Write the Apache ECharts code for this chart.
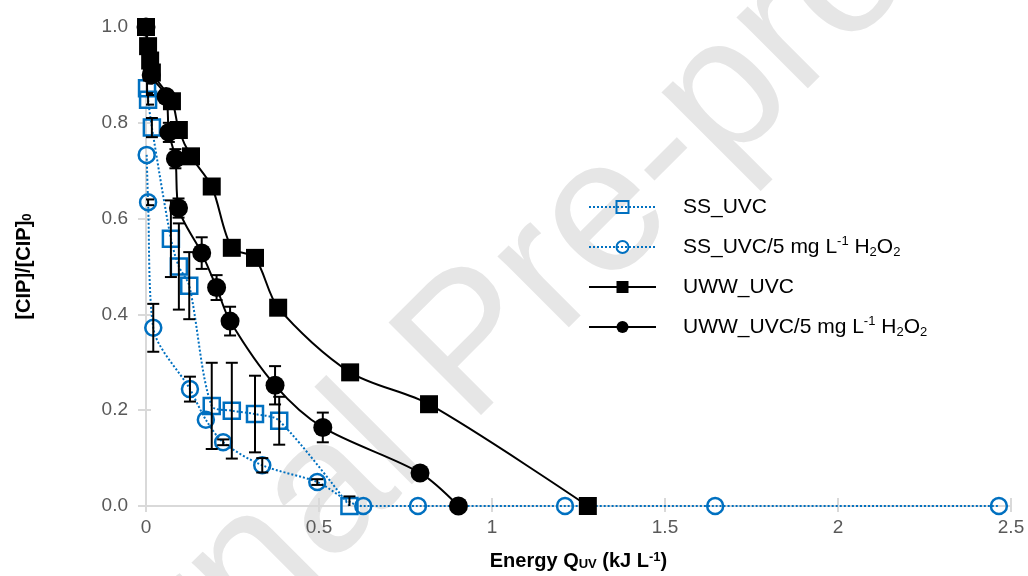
<!DOCTYPE html>
<html>
<head>
<meta charset="utf-8">
<script src="https://cdn.jsdelivr.net/npm/echarts@6/dist/echarts.min.js"></script>
<style>html,body{margin:0;padding:0;background:#fff;}#c{width:1028px;height:576px;}</style>
</head>
<body>
<div id="c"></div>
<script>
// ---- data ----
const ssUvcX   = [0.003, 0.006, 0.017, 0.072, 0.095, 0.125, 0.19, 0.248, 0.315, 0.385, 0.588];
const ssUvcY   = [0.872, 0.848, 0.79, 0.558, 0.50, 0.46, 0.209, 0.199, 0.192, 0.178, 0.0];
const ssUvcErr = [0.01, 0.01, 0.02, 0.08, 0.09, 0.07, 0.09, 0.10, 0.08, 0.05, 0.02];

const ssH2o2X   = [0.002, 0.006, 0.021, 0.127, 0.173, 0.223, 0.336, 0.495, 0.628, 0.786, 1.211, 1.645, 2.465];
const ssH2o2Y   = [0.733, 0.634, 0.372, 0.244, 0.18, 0.133, 0.085, 0.05, 0, 0, 0, 0, 0];
const ssH2o2Err = [0.0, 0.006, 0.05, 0.026, 0.0, 0.006, 0.015, 0.006, 0, 0, 0, 0, 0];

const uwwUvcX = [0.0, 0.006, 0.012, 0.017, 0.075, 0.095, 0.13, 0.19, 0.248, 0.315, 0.382, 0.59, 0.818, 1.277];
const uwwUvcY = [1.0, 0.96, 0.93, 0.905, 0.845, 0.785, 0.73, 0.667, 0.539, 0.518, 0.414, 0.279, 0.2125, 0.0];

const uwwH2o2X   = [0.0, 0.015, 0.058, 0.066, 0.085, 0.094, 0.161, 0.204, 0.243, 0.373, 0.511, 0.792, 0.903];
const uwwH2o2Y   = [1.0, 0.9, 0.855, 0.78, 0.725, 0.622, 0.528, 0.456, 0.386, 0.252, 0.164, 0.069, 0.0];
const uwwH2o2Err = [0, 0.01, 0.01, 0.02, 0.02, 0.02, 0.033, 0.026, 0.03, 0.04, 0.031, 0, 0];

const seriesNames = ['SS_UVC', 'SS_UVC/5 mg L-1 H2O2', 'UWW_UVC', 'UWW_UVC/5 mg L-1 H2O2'];
const legendLabels = {
  'SS_UVC': 'SS_UVC',
  'SS_UVC/5 mg L-1 H2O2': 'SS_UVC/5 mg L{sup|-1} H{sub|2}O{sub|2}',
  'UWW_UVC': 'UWW_UVC',
  'UWW_UVC/5 mg L-1 H2O2': 'UWW_UVC/5 mg L{sup|-1} H{sub|2}O{sub|2}'
};
const xTitle = 'Energy Q{sub|UV} (kJ L{sup|-1})';
const yTitle = '[CIP]/[CIP]{sub|0}';
const watermark = 'Journal Pre-proof';

// ---- helpers ----
const zip = (xs, ys) => xs.map((x, i) => [x, ys[i]]);
const zip3 = (xs, ys, es) => xs.map((x, i) => [x, ys[i], es[i]]);
const BLUE = '#0070C0';
const FONT = 'Liberation Sans, Arial, sans-serif';

function errRender(params, api) {
  const x = api.value(0), y = api.value(1), e = api.value(2);
  if (!e) return null;
  const t = api.coord([x, y + e]);
  const b = api.coord([x, y - e]);
  const hw = 6;
  const st = { stroke: '#000', lineWidth: 2 };
  return {
    type: 'group',
    children: [
      { type: 'line', shape: { x1: t[0], y1: t[1], x2: b[0], y2: b[1] }, style: st },
      { type: 'line', shape: { x1: t[0] - hw, y1: t[1], x2: t[0] + hw, y2: t[1] }, style: st },
      { type: 'line', shape: { x1: b[0] - hw, y1: b[1], x2: b[0] + hw, y2: b[1] }, style: st }
    ]
  };
}
function errSeries(xs, ys, es, z) {
  return { type: 'custom', renderItem: errRender, data: zip3(xs, ys, es), clip: true, z: z,
           encode: { x: 0, y: 1 }, silent: true };
}

const subSup = {
  sub: { fontSize: 13, verticalAlign: 'bottom', lineHeight: 19, fontWeight: 'bold', fontFamily: FONT, color: '#000' },
  sup: { fontSize: 13, verticalAlign: 'top', lineHeight: 19, fontWeight: 'bold', fontFamily: FONT, color: '#000' }
};

const chart = echarts.init(document.getElementById('c'), null, { renderer: 'canvas' });
chart.setOption({
  animation: false,
  backgroundColor: '#fff',
  graphic: [{
    type: 'text', x: 474, y: 348, rotation: Math.PI / 4, z: -100, zlevel: 0, silent: true,
    style: { text: watermark, fontSize: 190, fontFamily: FONT, fill: '#e6e6e6', align: 'center', verticalAlign: 'middle' }
  }],
  grid: { left: 146, right: 17, top: 27, bottom: 69, containLabel: false },
  legend: {
    data: seriesNames, orient: 'vertical', left: 588, top: 195, padding: 0,
    itemWidth: 67, itemHeight: 15, itemGap: 16,
    formatter: n => legendLabels[n],
    textStyle: {
      fontSize: 21, color: '#000', fontFamily: FONT, padding: [0, 0, 0, 22], lineHeight: 24,
      rich: {
        sub: { fontSize: 13, verticalAlign: 'bottom', lineHeight: 18, fontFamily: FONT, color: '#000' },
        sup: { fontSize: 13, verticalAlign: 'top', lineHeight: 18, fontFamily: FONT, color: '#000' }
      }
    }
  },
  xAxis: [{
    type: 'value', min: 0, max: 2.5, interval: 0.5,
    name: xTitle, nameLocation: 'middle', nameGap: 45,
    nameTextStyle: { fontSize: 20, fontWeight: 'bold', color: '#000', fontFamily: FONT, rich: subSup },
    axisLine: { show: true, onZero: false, lineStyle: { color: '#d9d9d9', width: 2 } },
    axisTick: { show: true, length: 6, lineStyle: { color: '#d9d9d9', width: 2 } },
    axisLabel: { fontSize: 19, color: '#595959', fontFamily: FONT, margin: 12 },
    splitLine: { show: false }
  }, {
    type: 'value', min: 0, max: 2.5, interval: 0.5, position: 'bottom',
    axisLine: { show: false }, axisLabel: { show: false }, splitLine: { show: false },
    axisTick: { show: true, inside: true, length: 8, lineStyle: { color: '#d9d9d9', width: 2 } }
  }],
  yAxis: [{
    type: 'value', min: 0, max: 1, interval: 0.2,
    name: yTitle, nameLocation: 'middle', nameGap: 112, nameRotate: 90,
    nameTextStyle: { fontSize: 20, fontWeight: 'bold', color: '#000', fontFamily: FONT, rich: subSup },
    axisLine: { show: true, onZero: false, lineStyle: { color: '#d9d9d9', width: 2 } },
    axisTick: { show: true, length: 8, lineStyle: { color: '#d9d9d9', width: 2 } },
    axisLabel: { fontSize: 19, color: '#595959', fontFamily: FONT, margin: 18, formatter: v => v.toFixed(1) },
    splitLine: { show: false }
  }, {
    type: 'value', min: 0, max: 1, interval: 0.2, position: 'left',
    axisLine: { show: false }, axisLabel: { show: false }, splitLine: { show: false },
    axisTick: { show: true, inside: true, length: 5, lineStyle: { color: '#d9d9d9', width: 2 } }
  }],
  series: [
    {
      name: seriesNames[0], type: 'line', data: zip(ssUvcX, ssUvcY), smooth: 0.3, z: 3,
      symbol: 'rect', symbolSize: 16,
      lineStyle: { color: BLUE, width: 2, type: [2, 2] },
      itemStyle: { color: 'rgba(255,255,255,0)', borderColor: BLUE, borderWidth: 2.5 }
    },
    {
      name: seriesNames[1], type: 'line', data: zip(ssH2o2X, ssH2o2Y), smooth: 0.3, z: 3,
      symbol: 'circle', symbolSize: 16,
      lineStyle: { color: BLUE, width: 2, type: [2, 2] },
      itemStyle: { color: 'rgba(255,255,255,0)', borderColor: BLUE, borderWidth: 2.5 }
    },
    {
      name: seriesNames[2], type: 'line', data: zip(uwwUvcX, uwwUvcY), smooth: 0.3, z: 4,
      symbol: 'rect', symbolSize: 18,
      lineStyle: { color: '#000', width: 2 },
      itemStyle: { color: '#000' }
    },
    {
      name: seriesNames[3], type: 'line', data: zip(uwwH2o2X, uwwH2o2Y), smooth: 0.3, z: 4,
      symbol: 'circle', symbolSize: 19,
      lineStyle: { color: '#000', width: 2 },
      itemStyle: { color: '#000' }
    },
    errSeries(ssUvcX, ssUvcY, ssUvcErr, 5),
    errSeries(ssH2o2X, ssH2o2Y, ssH2o2Err, 5),
    errSeries(uwwH2o2X, uwwH2o2Y, uwwH2o2Err, 3)
  ]
});
</script>
</body>
</html>
